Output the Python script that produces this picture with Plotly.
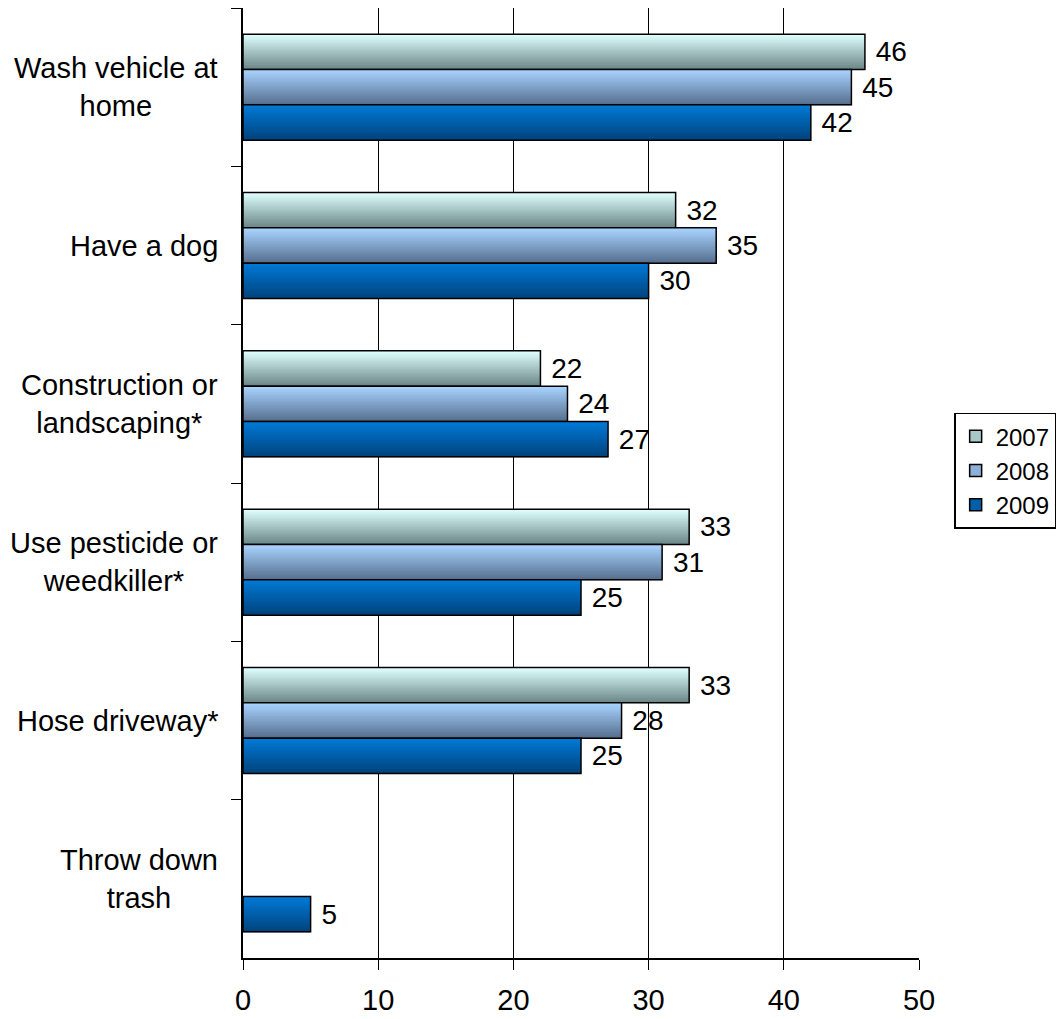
import plotly.graph_objects as go

categories = ["Wash vehicle at<br>home", "Have a dog", "Construction or<br>landscaping*",
              "Use pesticide or<br>weedkiller*", "Hose driveway*", "Throw down<br>trash"]
cat_keys = ["c0", "c1", "c2", "c3", "c4", "c5"]
years = ["2007", "2008", "2009"]
v2007 = [46, 32, 22, 33, 33, None]
v2008 = [45, 35, 24, 31, 28, None]
v2009 = [42, 30, 27, 25, 25, 5]
series = [v2007, v2008, v2009]
x_ticks = [0, 10, 20, 30, 40, 50]

# gradient endpoints (top colour, bottom colour) for each series
grad = [((224, 255, 255), (108, 136, 136)),
        ((168, 212, 255), (88, 112, 144)),
        ((0, 122, 214), (0, 68, 126))]
mid = ["#a8c8c8", "#8cb0d8", "#005fa8"]

FONT = "Liberation Sans, Arial, sans-serif"
N = 24
bw = 0.2233
start = -0.335

fig = go.Figure()

for i, vals in enumerate(series):
    base = start + i * bw
    (r0, g0, b0), (r1, g1, b1) = grad[i]
    for j in range(N):
        t = j / (N - 1)
        col = "rgb(%d,%d,%d)" % (r0 + (r1 - r0) * t, g0 + (g1 - g0) * t, b0 + (b1 - b0) * t)
        w = bw / N if j == N - 1 else bw / N * 2.2
        fig.add_trace(go.Bar(
            x=vals, y=cat_keys, orientation="h",
            offset=base + j * bw / N, width=w,
            marker=dict(color=col, line=dict(width=0)),
            showlegend=False, hoverinfo="skip"))
    fig.add_trace(go.Bar(
        x=vals, y=cat_keys, orientation="h",
        offset=base, width=bw,
        marker=dict(color="rgba(0,0,0,0)", line=dict(color="black", width=1.5)),
        text=[("" if v is None else "\u00a0" + str(v)) for v in vals],
        textposition="outside", cliponaxis=False,
        textfont=dict(family=FONT, size=28, color="black"),
        showlegend=False))
    # legend entry
    fig.add_trace(go.Bar(
        x=[None], y=[cat_keys[0]], orientation="h", name=years[i],
        marker=dict(color=mid[i], line=dict(color="black", width=1.5)),
        showlegend=True))

for k, lab in zip(cat_keys, categories):
    fig.add_annotation(x=-0.034, xref="paper", y=k, yref="y", text=lab,
                       showarrow=False, xanchor="right", yanchor="middle",
                       align="center", font=dict(family=FONT, size=29, color="black"))

fig.update_layout(
    width=1061, height=1019,
    margin=dict(l=243, r=142, t=8, b=61, autoexpand=False),
    paper_bgcolor="white", plot_bgcolor="white",
    barmode="overlay",
    font=dict(family=FONT, size=28, color="black"),
    showlegend=True,
    legend=dict(x=1.052, y=0.574, xanchor="left", yanchor="top",
                bordercolor="black", borderwidth=1.5, bgcolor="white",
                font=dict(family=FONT, size=24, color="black"),
                tracegroupgap=0, traceorder="normal"),
    xaxis=dict(range=[0, 50], tickvals=x_ticks, showgrid=True, gridcolor="black",
               gridwidth=1, showline=True, linecolor="black", linewidth=1.5,
               ticks="outside", ticklen=10, tickcolor="black", zeroline=False,
               tickfont=dict(family=FONT, size=29), ticklabelstandoff=5),
    yaxis=dict(type="category", categoryarray=cat_keys, range=[5.5, -0.5],
               showticklabels=False, ticks="outside", ticklen=10, tickcolor="black",
               tickson="boundaries", showline=True, linecolor="black", linewidth=1.5,
               showgrid=False, zeroline=False),
)

fig.write_html("out.html")
